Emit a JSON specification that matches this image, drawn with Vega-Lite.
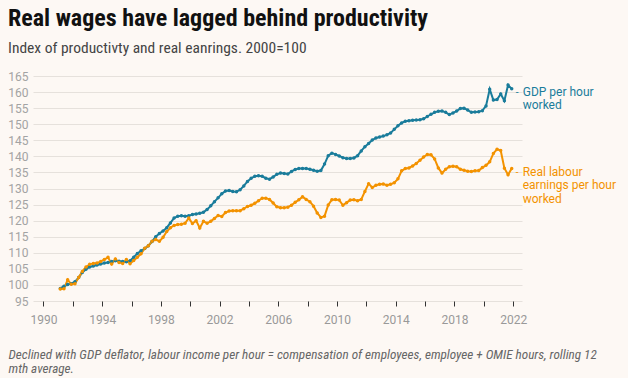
{
  "$schema": "https://vega.github.io/schema/vega-lite/v6.json",
  "width": 489,
  "height": 225,
  "autosize": {"type": "none"},
  "padding": {"left": 33, "top": 76, "right": 106, "bottom": 77},
  "background": "#fdf8f4",
  "title": {
    "text": "Real wages have lagged behind productivity",
    "subtitle": "Index of productivty and real eanrings. 2000=100",
    "anchor": "start",
    "frame": "group",
    "dx": -25,
    "offset": 14,
    "font": "Roboto Condensed, Liberation Sans Narrow, Roboto",
    "fontSize": 24,
    "fontWeight": "bold",
    "color": "#111111",
    "subtitleFont": "Roboto Condensed, Liberation Sans Narrow, Roboto",
    "subtitleFontSize": 15.5,
    "subtitleColor": "#444444",
    "subtitlePadding": 10
  },
  "datasets": {
    "series": [
      {"t":1991.15,"g":98.9,"w":98.7},{"t":1991.4,"g":99.6,"w":98.8},{"t":1991.65,"g":100.1,"w":101.6},{"t":1991.9,"g":100.4,"w":100.2},
      {"t":1992.15,"g":101.0,"w":100.4},{"t":1992.4,"g":102.3,"w":102.3},{"t":1992.65,"g":103.9,"w":104.2},{"t":1992.9,"g":104.9,"w":105.6},
      {"t":1993.15,"g":105.6,"w":106.4},{"t":1993.4,"g":105.9,"w":106.7},{"t":1993.65,"g":106.2,"w":106.8},{"t":1993.9,"g":106.5,"w":107.3},
      {"t":1994.15,"g":106.8,"w":107.9},{"t":1994.4,"g":107.0,"w":108.6},{"t":1994.65,"g":107.3,"w":106.5},{"t":1994.9,"g":107.5,"w":108.1},
      {"t":1995.15,"g":107.4,"w":107.0},{"t":1995.4,"g":107.3,"w":106.7},{"t":1995.65,"g":107.2,"w":107.9},{"t":1995.9,"g":107.5,"w":106.6},
      {"t":1996.15,"g":108.6,"w":107.6},{"t":1996.4,"g":109.8,"w":108.6},{"t":1996.65,"g":110.6,"w":109.7},{"t":1996.9,"g":111.3,"w":111.4},
      {"t":1997.15,"g":112.2,"w":112.2},{"t":1997.4,"g":113.5,"w":113.6},{"t":1997.65,"g":115.0,"w":114.1},{"t":1997.9,"g":116.0,"w":113.6},
      {"t":1998.15,"g":116.8,"w":114.8},{"t":1998.4,"g":117.8,"w":116.6},{"t":1998.65,"g":119.3,"w":117.8},{"t":1998.9,"g":120.8,"w":118.5},
      {"t":1999.15,"g":121.4,"w":118.8},{"t":1999.4,"g":121.5,"w":118.9},{"t":1999.65,"g":121.4,"w":119.2},{"t":1999.9,"g":121.5,"w":120.8},
      {"t":2000.15,"g":121.9,"w":119.1},{"t":2000.4,"g":122.1,"w":120.0},{"t":2000.65,"g":122.3,"w":117.7},{"t":2000.9,"g":122.6,"w":119.8},
      {"t":2001.15,"g":123.5,"w":119.2},{"t":2001.4,"g":124.6,"w":119.8},{"t":2001.65,"g":125.9,"w":120.7},{"t":2001.9,"g":127.1,"w":121.6},
      {"t":2002.15,"g":128.4,"w":121.3},{"t":2002.4,"g":129.2,"w":122.5},{"t":2002.65,"g":129.4,"w":123.0},{"t":2002.9,"g":129.1,"w":123.1},
      {"t":2003.15,"g":129.0,"w":123.1},{"t":2003.4,"g":129.6,"w":123.1},{"t":2003.65,"g":130.8,"w":123.7},{"t":2003.9,"g":132.2,"w":124.4},
      {"t":2004.15,"g":133.2,"w":124.8},{"t":2004.4,"g":133.8,"w":125.4},{"t":2004.65,"g":134.0,"w":126.2},{"t":2004.9,"g":133.8,"w":127.0},
      {"t":2005.15,"g":133.2,"w":127.0},{"t":2005.4,"g":132.9,"w":126.6},{"t":2005.65,"g":133.6,"w":125.5},{"t":2005.9,"g":134.4,"w":124.3},
      {"t":2006.15,"g":134.8,"w":124.0},{"t":2006.4,"g":134.7,"w":124.0},{"t":2006.65,"g":134.5,"w":124.2},{"t":2006.9,"g":135.3,"w":124.8},
      {"t":2007.15,"g":135.9,"w":125.7},{"t":2007.4,"g":136.2,"w":126.5},{"t":2007.65,"g":136.2,"w":127.4},{"t":2007.9,"g":136.2,"w":126.6},
      {"t":2008.15,"g":136.0,"w":125.9},{"t":2008.4,"g":135.7,"w":124.5},{"t":2008.65,"g":135.4,"w":122.4},{"t":2008.9,"g":135.6,"w":121.0},
      {"t":2009.15,"g":137.6,"w":121.4},{"t":2009.4,"g":140.2,"w":124.9},{"t":2009.65,"g":141.0,"w":126.5},{"t":2009.9,"g":140.6,"w":126.6},
      {"t":2010.15,"g":140.1,"w":126.4},{"t":2010.4,"g":139.6,"w":124.8},{"t":2010.65,"g":139.3,"w":125.6},{"t":2010.9,"g":139.3,"w":126.4},
      {"t":2011.15,"g":139.5,"w":126.5},{"t":2011.4,"g":140.2,"w":126.2},{"t":2011.65,"g":141.7,"w":126.6},{"t":2011.9,"g":143.0,"w":129.1},
      {"t":2012.15,"g":144.0,"w":131.5},{"t":2012.4,"g":145.1,"w":130.3},{"t":2012.65,"g":145.7,"w":131.0},{"t":2012.9,"g":146.0,"w":131.3},
      {"t":2013.15,"g":146.3,"w":131.4},{"t":2013.4,"g":146.7,"w":131.0},{"t":2013.65,"g":147.3,"w":131.3},{"t":2013.9,"g":148.4,"w":131.8},
      {"t":2014.15,"g":149.5,"w":133.0},{"t":2014.4,"g":150.4,"w":135.5},{"t":2014.65,"g":150.9,"w":136.2},{"t":2014.9,"g":151.1,"w":136.4},
      {"t":2015.15,"g":151.2,"w":137.0},{"t":2015.4,"g":151.3,"w":137.8},{"t":2015.65,"g":151.4,"w":138.8},{"t":2015.9,"g":151.7,"w":139.8},
      {"t":2016.15,"g":152.4,"w":140.6},{"t":2016.4,"g":153.1,"w":140.5},{"t":2016.65,"g":153.7,"w":139.2},{"t":2016.9,"g":154.0,"w":136.4},
      {"t":2017.15,"g":154.1,"w":134.8},{"t":2017.4,"g":153.7,"w":136.0},{"t":2017.65,"g":153.0,"w":136.8},{"t":2017.9,"g":153.5,"w":136.9},
      {"t":2018.15,"g":154.1,"w":136.8},{"t":2018.4,"g":154.9,"w":136.0},{"t":2018.65,"g":155.0,"w":135.7},{"t":2018.9,"g":154.4,"w":135.4},
      {"t":2019.15,"g":153.7,"w":135.3},{"t":2019.4,"g":153.8,"w":135.5},{"t":2019.65,"g":153.9,"w":135.6},{"t":2019.9,"g":154.2,"w":136.5},
      {"t":2020.15,"g":155.7,"w":137.2},{"t":2020.4,"g":160.9,"w":138.3},{"t":2020.65,"g":157.5,"w":140.9},{"t":2020.9,"g":157.7,"w":142.2},
      {"t":2021.15,"g":159.4,"w":141.8},{"t":2021.4,"g":157.3,"w":136.3},{"t":2021.65,"g":162.2,"w":134.3},{"t":2021.9,"g":161.0,"w":136.2}
    ],
    "labels": [
      {"s":"g","t":2021.9,"v":161.0,"label":["GDP per hour","worked"]},
      {"s":"w","t":2021.9,"v":136.2,"label":["Real labour","earnings per hour","worked"]}
    ]
  },
  "encoding": {
    "x": {
      "field": "t", "type": "quantitative",
      "scale": {"domain": [1989.29, 2022.6], "nice": false, "zero": false},
      "axis": {
        "values": [1990,1992,1994,1996,1998,2000,2002,2004,2006,2008,2010,2012,2014,2016,2018,2020,2022],
        "labelExpr": "(datum.value - 1990) % 4 == 0 ? format(datum.value, 'd') : ''",
        "labelOverlap": false,
        "grid": false, "domain": false,
        "ticks": true, "tickSize": 5, "tickColor": "#333333",
        "labelColor": "#999999", "labelFontSize": 12, "labelPadding": 8,
        "labelFont": "Roboto",
        "title": ["Declined with GDP deflator, labour income per hour = compensation of employees, employee + OMIE hours, rolling 12", "mth average."],
        "titleFont": "Roboto Condensed, Liberation Sans Narrow, Roboto",
        "titleFontStyle": "italic", "titleFontWeight": "normal",
        "titleFontSize": 13.2, "titleColor": "#666666",
        "titleAnchor": "start", "titleAlign": "left",
        "titleX": -25, "titleY": 47, "titleBaseline": "top",
        "titleLineHeight": 14.5
      }
    },
    "y": {
      "field": "v", "type": "quantitative",
      "scale": {"domain": [95, 165], "nice": false, "zero": false},
      "axis": {
        "values": [95,100,105,110,115,120,125,130,135,140,145,150,155,160,165],
        "labelOverlap": false,
        "title": null, "domain": false, "ticks": false,
        "gridColor": "#e6e1dc", "gridWidth": 1,
        "labelColor": "#a3a3a3", "labelFontSize": 12, "labelPadding": 5,
        "labelFont": "Roboto"
      }
    },
    "color": {
      "field": "s", "type": "nominal",
      "scale": {"domain": ["g", "w"], "range": ["#1a7c9b", "#f39200"]},
      "legend": null
    }
  },
  "layer": [
    {
      "data": {"name": "series"},
      "transform": [{"fold": ["g", "w"], "as": ["s", "v"]}],
      "mark": {"type": "line", "strokeWidth": 2, "point": {"filled": true, "size": 12}}
    },
    {
      "data": {"name": "labels"},
      "mark": {"type": "text", "align": "left", "baseline": "top", "dx": 11, "dy": -2, "fontSize": 12, "lineHeight": 13.5, "font": "Roboto"},
      "encoding": {
        "text": {"field": "label"}
      }
    },
    {
      "data": {"name": "labels"},
      "mark": {"type": "text", "align": "left", "baseline": "middle", "dx": 4, "dy": 4, "fontSize": 10, "font": "Roboto"},
      "encoding": {
        "text": {"value": "-"}
      }
    }
  ],
  "config": {"view": {"stroke": null}}
}
